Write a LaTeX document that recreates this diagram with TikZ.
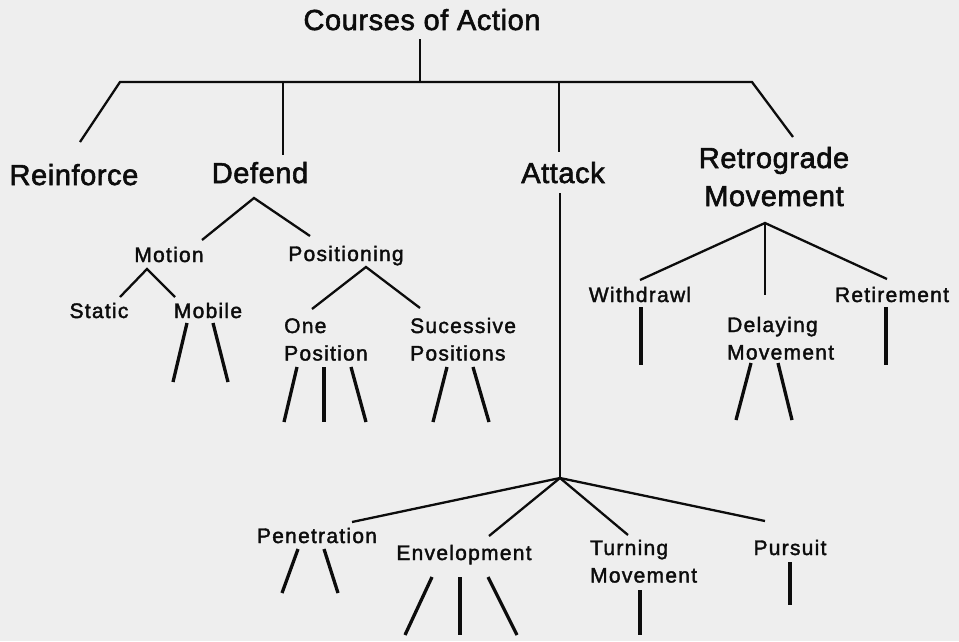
\documentclass[tikz,border=0pt]{standalone}
\usepackage{fontspec}
\setmainfont{Liberation Sans}
\newfontfamily\headfont[LetterSpace=2,FakeBold=2]{Liberation Sans}
\newfontfamily\subfont[LetterSpace=6,FakeBold=1.8]{Liberation Sans}
% two-line labels: first line carries the baseline
\newcommand\stackc[2]{\begin{tabular}[t]{@{}c@{}}#1\\#2\end{tabular}}
\newcommand\stackl[2]{\begin{tabular}[t]{@{}l@{}}#1\\#2\end{tabular}}
\definecolor{ink}{RGB}{12,12,12}
\definecolor{paper}{RGB}{238,238,238}
\tikzset{
  head/.style={font=\headfont\fontsize{29}{38}\selectfont, inner sep=0pt, anchor=base, text=ink},
  sub/.style={font=\subfont\fontsize{21}{27.5}\selectfont, inner sep=0pt, anchor=base, text=ink},
  subl/.style={sub, anchor=base west},
  link/.style={draw=ink, line width=2.3pt},
  stub/.style={draw=ink, line width=3.3pt},
}
\begin{document}
\begin{tikzpicture}[x=1pt, y=-1pt]
\fill[paper] (0,0) rectangle (959,641);
\useasboundingbox (0,0) rectangle (959,641);

% ---------- labels ----------
\node[head] (root) at (422,30) {Courses of Action};
\node[head] (reinforce) at (74,185) {Reinforce};
\node[head] (defend) at (260,183) {Defend};
\node[head] (attack) at (563,183) {Attack};
\node[head] (retro) at (774,168) {\stackc{Retrograde}{Movement}};

\node[sub] (motion) at (169,262) {Motion};
\node[sub] (positioning) at (346,261) {Positioning};
\node[sub] (static) at (99,318) {Static};
\node[sub] (mobile) at (208,318) {Mobile};
\node[subl] (onepos) at (284,333) {\stackl{One}{Position}};
\node[subl] (succ) at (410,333) {\stackl{Sucessive}{Positions}};

\node[sub] (withdrawl) at (640,302) {Withdrawl};
\node[sub] (retirement) at (892,302) {Retirement};
\node[subl] (delaying) at (727,332) {\stackl{Delaying}{Movement}};

\node[sub] (penetration) at (317,543) {Penetration};
\node[sub] (envelopment) at (464,560) {Envelopment};
\node[subl] (turning) at (590,555) {\stackl{Turning}{Movement}};
\node[sub] (pursuit) at (790,555) {Pursuit};

% ---------- junction and end points ----------
\coordinate (rootTop) at (420,39);
\coordinate (rootBar) at (420,82);
\coordinate (barL) at (120,82);
\coordinate (barR) at (752,82);
\coordinate (reinfEnd) at (80,142);
\coordinate (defTop) at (283,82);
\coordinate (defEnd) at (283,155);
\coordinate (attTop) at (559,82);
\coordinate (attEnd) at (559,152);
\coordinate (retroEnd) at (793,137);

% defend subtree
\coordinate (defApex) at (254,198);
\coordinate (motEnd) at (202,240);
\coordinate (posEnd) at (310,236);
\coordinate (motApex) at (147,269);
\coordinate (staEnd) at (120,297);
\coordinate (mobEnd) at (175,297);
\coordinate (posApex) at (366,267);
\coordinate (oneEnd) at (312,309);
\coordinate (sucEnd) at (420,308);

% retrograde subtree
\coordinate (retApex) at (765,223);
\coordinate (witEnd) at (640,280);
\coordinate (delEnd) at (765,295);
\coordinate (retEnd) at (887,279);

% attack subtree
\coordinate (attLow) at (560,193);
\coordinate (attFork) at (560,478);
\coordinate (penEnd) at (352,522);
\coordinate (envEnd) at (489,536);
\coordinate (turEnd) at (628,535);
\coordinate (purEnd) at (765,521);

% ---------- connectors ----------
\draw[link] (rootTop) -- (rootBar);
\draw[link] (reinfEnd) -- (barL) -- (barR) -- (retroEnd);
\draw[link] (defTop) -- (defEnd);
\draw[link] (attTop) -- (attEnd);

\draw[link] (motEnd) -- (defApex) -- (posEnd);
\draw[link] (staEnd) -- (motApex) -- (mobEnd);
\draw[link] (oneEnd) -- (posApex) -- (sucEnd);

\draw[link] (witEnd) -- (retApex) -- (retEnd);
\draw[link] (retApex) -- (delEnd);

\draw[link] (attLow) -- (attFork);
\draw[link] (attFork) -- (penEnd);
\draw[link] (attFork) -- (envEnd);
\draw[link] (attFork) -- (turEnd);
\draw[link] (attFork) -- (purEnd);

% ---------- open stubs below the leaves ----------
\foreach \a/\b/\c/\d [count=\i] in {
  187/323/173/382, 213/323/228/382,
  297/367/284/422, 324/367/324/422, 351/367/366/422,
  447/367/433/422, 473/367/489/422,
  641/307/641/365, 886/307/886/365,
  751/363/736/420, 778/363/792/420,
  298/549/282/593, 324/549/338/593,
  432/577/405/635, 460/577/460/635, 488/577/517/635,
  640/590/640/635, 790/562/790/605} {
  \coordinate (s\i a) at (\a,\b);
  \coordinate (s\i b) at (\c,\d);
  \draw[stub] (s\i a) -- (s\i b);
}
\end{tikzpicture}
\end{document}
